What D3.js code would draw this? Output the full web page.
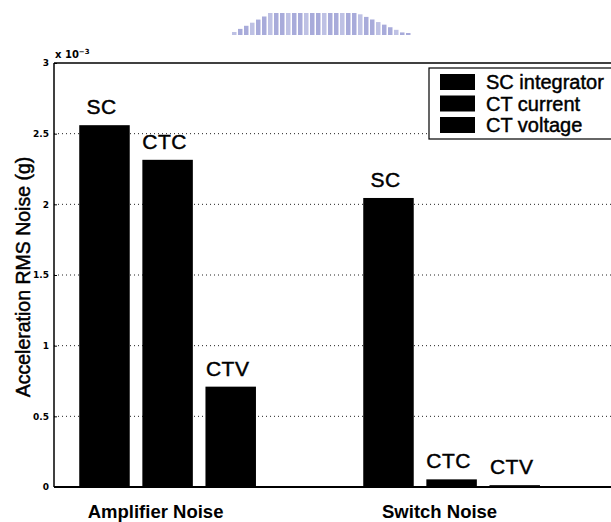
<!DOCTYPE html>
<html>
<head>
<meta charset="utf-8">
<script src="https://cdn.jsdelivr.net/npm/d3@7"></script>
<style>
  body { margin: 0; background: #fff; }
  svg { display: block; font-family: "Liberation Sans", Arial, sans-serif; }
  .heavy { stroke: #000; stroke-width: 0.45px; }
</style>
</head>
<body>
<div id="chart"></div>
<script>
// Data (values in units of 1e-3 g)
const groups = ["Amplifier Noise", "Switch Noise"];
const seriesNames = ["SC integrator", "CT current", "CT voltage"];
const seriesTags = ["SC", "CTC", "CTV"];
const scIntegrator = [2.56, 2.045];
const ctCurrent = [2.315, 0.054];
const ctVoltage = [0.71, 0.013];
const yTicks = [0, 0.5, 1, 1.5, 2, 2.5, 3];

class GroupedBars {

    constructor(_config) {
        this.config = {
            parentElement: _config.parentElement,
            containerWidth: 611,
            containerHeight: 522,
            margin: {top: 63, left: 54, bottom: 35}
        };
        this.initVis();
    }

    initVis() {
        let vis = this;
        const m = vis.config.margin;

        vis.svg = d3.select(vis.config.parentElement).append('svg')
            .attr('width', vis.config.containerWidth)
            .attr('height', vis.config.containerHeight);

        // group index 1..n like the original plot; right side of the axes is cut off
        vis.xScale = d3.scaleLinear()
            .domain([0.6, 2.6])
            .range([m.left, 622]);

        vis.yScale = d3.scaleLinear()
            .domain([0, 3])
            .range([vis.config.containerHeight - m.bottom, m.top]);

        vis.subScale = d3.scaleBand()
            .domain(seriesNames)
            .range([-1 / 3, 1 / 3]);

        vis.updateVis();
    }

    updateVis() {
        let vis = this;
        const cols = [scIntegrator, ctCurrent, ctVoltage];
        vis.bars = [];
        groups.forEach((g, gi) => {
            seriesNames.forEach((s, si) => {
                vis.bars.push({group: g, gx: gi + 1, series: s, tag: seriesTags[si], value: cols[si][gi]});
            });
        });
        vis.renderVis();
    }

    renderVis() {
        let vis = this;
        const x = vis.xScale, y = vis.yScale;
        const left = x.range()[0], right = 615;
        const bw = vis.subScale.bandwidth();

        // faint watermark at the top
        const logo = vis.svg.append('g').attr('fill', '#a3a7d8');
        d3.range(30).forEach(i => {
            const t = i / 29;
            const h = t < 0.2 ? 3 + t * 90 : (t > 0.72 ? Math.max(2, 21 - (t - 0.72) * 75) : 22);
            logo.append('rect')
                .attr('x', 232 + i * 6)
                .attr('y', 35 - h)
                .attr('width', 4.5)
                .attr('height', h)
                .attr('opacity', i % 3 === 0 ? 0.7 : 0.95);
        });

        // dotted grid
        vis.svg.append('g')
            .selectAll('line')
            .data(yTicks.filter(d => d > 0 && d < 3))
            .join('line')
            .attr('x1', left).attr('x2', right)
            .attr('y1', d => y(d)).attr('y2', d => y(d))
            .attr('stroke', '#222')
            .attr('stroke-width', 1)
            .attr('stroke-dasharray', '1 3');

        // bars
        const barX = d => x(d.gx + vis.subScale(d.series) + bw * 0.1);
        const barW = x(x.domain()[0] + bw * 0.8) - x(x.domain()[0]);
        vis.svg.append('g')
            .selectAll('rect')
            .data(vis.bars)
            .join('rect')
            .attr('x', barX)
            .attr('y', d => y(d.value))
            .attr('width', barW)
            .attr('height', d => y(0) - y(d.value))
            .attr('fill', '#000');

        // bar tags
        vis.svg.append('g')
            .selectAll('text')
            .data(vis.bars)
            .join('text')
            .attr('class', 'heavy')
            .attr('x', d => barX(d) + barW / 2 - 3)
            .attr('y', d => y(d.value) - 11)
            .attr('text-anchor', 'middle')
            .attr('font-size', 21)
            .attr('letter-spacing', 0.5)
            .text(d => d.tag);

        // axes frame
        const frame = vis.svg.append('g').attr('stroke', '#000').attr('fill', 'none');
        frame.append('line').attr('x1', left).attr('x2', right)
            .attr('y1', y(3)).attr('y2', y(3)).attr('stroke-width', 1.5);
        frame.append('line').attr('x1', left).attr('x2', right)
            .attr('y1', y(0)).attr('y2', y(0)).attr('stroke-width', 2);
        frame.append('line').attr('x1', left).attr('x2', left)
            .attr('y1', y(3)).attr('y2', y(0)).attr('stroke-width', 1.5);

        // y axis
        const yAxis = d3.axisLeft(y)
            .tickValues(yTicks)
            .tickSize(-3)
            .tickPadding(5)
            .tickFormat(d3.format('~g'));
        vis.svg.append('g')
            .attr('transform', `translate(${left},0)`)
            .call(yAxis)
            .call(g => g.select('.domain').remove())
            .call(g => g.selectAll('text')
                .attr('font-family', '"DejaVu Sans", sans-serif')
                .attr('font-weight', 'bold')
                .attr('font-size', 9)
                .attr('fill', '#000'));

        // exponent
        const expo = vis.svg.append('text')
            .attr('x', left + 1)
            .attr('y', y(3) - 5)
            .attr('font-family', '"DejaVu Sans", sans-serif')
            .attr('font-weight', 'bold')
            .attr('font-size', 10)
            .text('x 10');
        expo.append('tspan').attr('dy', -4).attr('font-size', 7).text('−3');

        // x category labels
        vis.svg.append('g')
            .selectAll('text')
            .data(groups)
            .join('text')
            .attr('x', (d, i) => x(i + 1) - 12)
            .attr('y', y(0) + 31)
            .attr('text-anchor', 'middle')
            .attr('font-weight', 'bold')
            .attr('font-size', 18.5)
            .text(d => d);

        // y label
        vis.svg.append('text')
            .attr('class', 'heavy')
            .attr('transform', `translate(30,${(y(0) + y(3)) / 2 + 2}) rotate(-90)`)
            .attr('text-anchor', 'middle')
            .attr('font-size', 19.5)
            .text('Acceleration RMS Noise (g)');

        // legend
        const legend = vis.svg.append('g').attr('transform', 'translate(429,68)');
        legend.append('rect')
            .attr('width', 200).attr('height', 71)
            .attr('fill', '#fff').attr('stroke', '#000').attr('stroke-width', 1.2);
        const item = legend.selectAll('g.item')
            .data(seriesNames)
            .join('g')
            .attr('class', 'item')
            .attr('transform', (d, i) => `translate(11,${6 + i * 21.5})`);
        item.append('rect')
            .attr('width', 35).attr('height', 16)
            .attr('fill', '#000');
        item.append('text')
            .attr('class', 'heavy')
            .attr('x', 46).attr('y', 15)
            .attr('font-size', 20)
            .text(d => d);
    }
}

new GroupedBars({parentElement: '#chart'});
</script>
</body>
</html>
